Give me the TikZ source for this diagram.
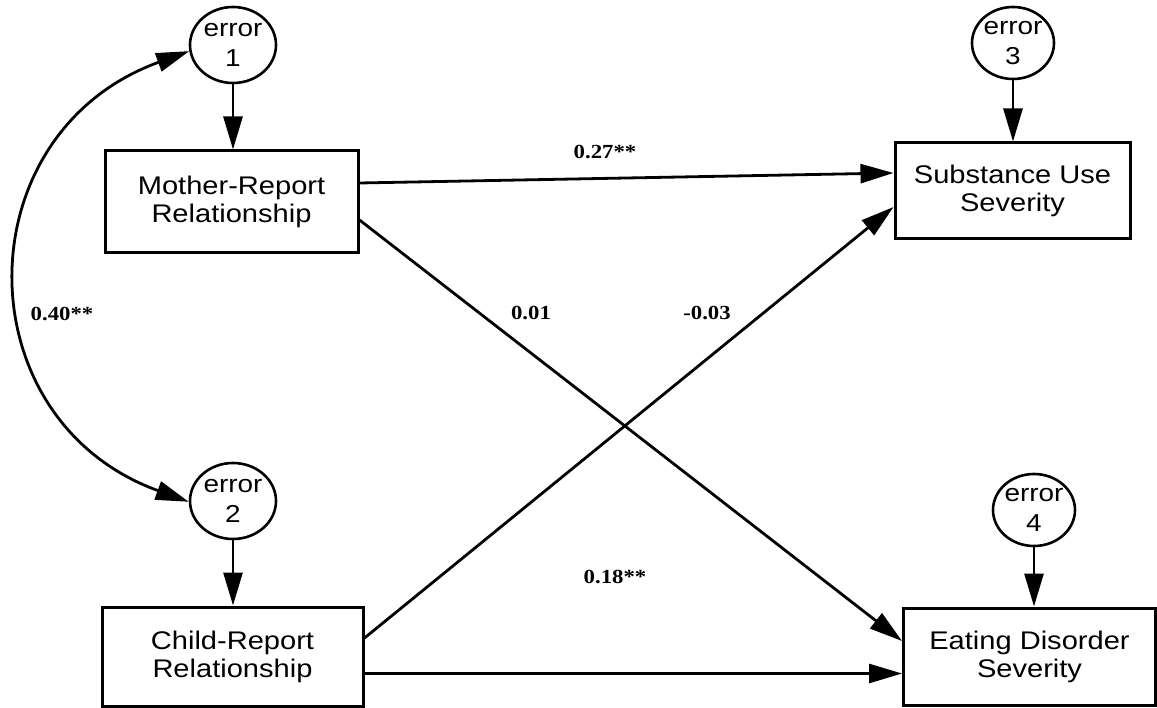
\documentclass[tikz,border=0pt]{standalone}
\usepackage{fontspec}
\usetikzlibrary{shapes.geometric,arrows.meta,calc}
% Widened faces for the path diagram
\newfontfamily\pathsans[FakeStretch=1.14]{Liberation Sans}
\newfontfamily\pathserif[FakeStretch=1.14]{Liberation Serif}
\begin{document}
\begin{tikzpicture}[x=1pt,y=-1pt,
  varbox/.style={draw, line width=3pt, rectangle, align=center, inner sep=0pt,
    font=\pathsans\fontsize{25.5}{28}\selectfont},
  errnode/.style={draw, line width=2.6pt, ellipse, align=center, inner sep=0pt,
    inner xsep=-8pt, minimum width=86pt, minimum height=76pt,
    font=\pathsans\fontsize{24.5}{30}\selectfont},
  coef/.style={font=\pathserif\bfseries\fontsize{20}{22}\selectfont, inner sep=1pt},
  path/.style={line width=2.8pt, -{Triangle[length=33pt,width=19pt]}},
  cov/.style={line width=2.8pt, {Triangle[length=33pt,width=19pt]}-{Triangle[length=33pt,width=19pt]}}
]
\useasboundingbox (0,0) rectangle (1157,708);

% observed variables
\node[varbox, minimum width=253pt, minimum height=102pt] (m) at (231.5,202) {Mother-Report\\Relationship};
\node[varbox, minimum width=261pt, minimum height=99pt] (c) at (232.5,656.5) {Child-Report\\Relationship};
\node[varbox, minimum width=235pt, minimum height=96pt] (s) at (1012.5,191) {Substance Use\\Severity};
\node[varbox, minimum width=252pt, minimum height=97pt] (d) at (1029.5,656.5) {Eating Disorder\\Severity};

% error terms
\node[errnode] (e1) at (233,45) {error\\1};
\node[errnode] (e2) at (233,501) {error\\2};
\node[errnode, minimum width=82pt, minimum height=72pt] (e3) at (1013,43) {error\\3};
\node[errnode, minimum width=82pt, minimum height=72pt] (e4) at (1034,510) {error\\4};

% error paths
\draw[path] (e1.south) -- (e1.south |- m.north);
\draw[path] (e2.south) -- (e2.south |- c.north);
\draw[path] (e3.south) -- (e3.south |- s.north);
\draw[path] (e4.south) -- (e4.south |- d.north);

% structural paths
\draw[path] ($(m.east)+(0,-19)$) -- ($(s.west)+(0,-18)$);
\draw[path] ($(m.east)+(0,18)$) -- ($(d.west)+(0,-15.5)$);
\draw[path] ($(c.east)+(0,-18.5)$) -- ($(s.west)+(0,16)$);
\draw[path] ($(c.east)+(0,17)$) -- ($(d.west)+(0,17)$);

% covariance between the two relationship reports
\draw[cov] (e1.188) .. controls +(-226,82) and +(-226,-82) .. (e2.181);

% coefficients
\node[coef] (k27) at (605,152) {0.27**};
\node[coef] (k01) at (531,313) {0.01};
\node[coef] (k03) at (707,313) {-0.03};
\node[coef] (k40) at (62,314) {0.40**};
\node[coef] (k18) at (615,577) {0.18**};
\end{tikzpicture}
\end{document}
